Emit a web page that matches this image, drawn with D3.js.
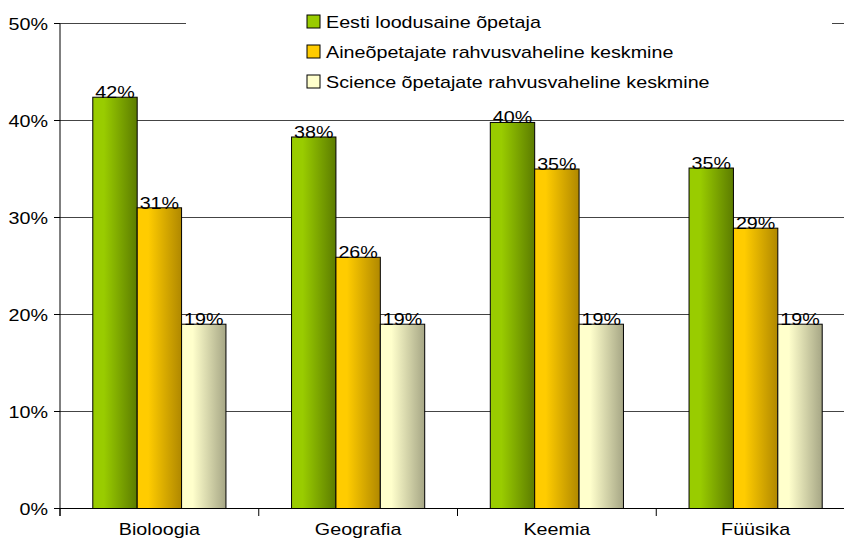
<!DOCTYPE html>
<html>
<head>
<meta charset="utf-8">
<script src="https://cdn.jsdelivr.net/npm/d3@7"></script>
<style>
  body { margin: 0; background: #fff; }
  text { font-family: "Liberation Sans", Arial, sans-serif; fill: #000; }
</style>
</head>
<body>
<svg id="chart" width="844" height="541"></svg>
<script>
// categories and series (values in %)
const categories = ["Bioloogia", "Geografia", "Keemia", "Füüsika"];
const seriesNames = [
  "Eesti loodusaine õpetaja",
  "Aineõpetajate rahvusvaheline keskmine",
  "Science õpetajate rahvusvaheline keskmine"
];
const eesti = [42.4, 38.3, 39.8, 35.1];
const aine = [31.0, 25.9, 35.0, 28.9];
const science = [19.0, 19.0, 19.0, 19.0];
const labels = [
  ["42%", "38%", "40%", "35%"],
  ["31%", "26%", "35%", "29%"],
  ["19%", "19%", "19%", "19%"]
];
const yTicks = [0, 10, 20, 30, 40, 50];

const series = [eesti, aine, science];

// colours for each series: light edge -> dark edge
const colors = [
  {light: "#99cc00", dark: "#5c7c00"},
  {light: "#ffcc00", dark: "#b08800"},
  {light: "#ffffcc", dark: "#a6a685"}
];

const svg = d3.select("#chart");
const stretch = 1.16; // text in the original is a bit wider than plain Arial

//gradients for bars
const defs = svg.append("defs");
colors.forEach((c, i) => {
  const g = defs.append("linearGradient")
    .attr("id", "grad" + i)
    .attr("x1", "0%").attr("x2", "100%")
    .attr("y1", "0%").attr("y2", "0%");
  g.append("stop").attr("offset", "0%").attr("stop-color", c.light);
  g.append("stop").attr("offset", "25%").attr("stop-color", c.light);
  g.append("stop").attr("offset", "100%").attr("stop-color", c.dark);
});

// scales
const x = d3.scaleBand()
  .domain(categories)
  .range([60, 855])
  .paddingInner(0.33)
  .paddingOuter(0.165);

const xSub = d3.scaleBand()
  .domain(d3.range(series.length))
  .range([0, x.bandwidth()]);

const y = d3.scaleLinear()
  .domain([0, 50])
  .range([508.5, 23.5]);

const step = x.step();

// gridlines
svg.append("g")
  .selectAll("line")
  .data(yTicks.filter(d => d > 0))
  .enter()
  .append("line")
  .attr("x1", 60).attr("x2", 844)
  .attr("y1", d => y(d)).attr("y2", d => y(d))
  .attr("stroke", "#444")
  .attr("stroke-width", 1);

// legend background hides part of the top gridline
svg.append("rect")
  .attr("x", 186).attr("y", 0)
  .attr("width", 646).attr("height", 100)
  .attr("fill", "#fff");

// bars
const groups = svg.append("g")
  .selectAll("g")
  .data(series)
  .enter()
  .append("g")
  .attr("fill", (d, i) => `url(#grad${i})`);

groups.selectAll("rect")
  .data((d, i) => d.map((v, j) => ({v: v, s: i, c: categories[j]})))
  .enter()
  .append("rect")
  .attr("x", d => x(d.c) + xSub(d.s))
  .attr("width", xSub.bandwidth())
  .attr("y", d => y(d.v))
  .attr("height", d => y(0) - y(d.v))
  .attr("stroke", "#000")
  .attr("stroke-width", 1);

// value labels
series.forEach((s, i) => {
  svg.append("g")
    .selectAll("text")
    .data(s)
    .enter()
    .append("text")
    .attr("transform", (d, j) =>
      `translate(${x(categories[j]) + xSub(i) + xSub.bandwidth() / 2}, ${y(d) + 1}) scale(${stretch},1)`)
    .attr("text-anchor", "middle")
    .style("font-size", "17px")
    .text((d, j) => labels[i][j]);
});

// y axis
svg.append("line")
  .attr("x1", 60).attr("x2", 60)
  .attr("y1", y(50)).attr("y2", 516)
  .attr("stroke", "#000");

svg.append("g")
  .selectAll("line")
  .data(yTicks)
  .enter()
  .append("line")
  .attr("x1", 54).attr("x2", 60)
  .attr("y1", d => y(d)).attr("y2", d => y(d))
  .attr("stroke", "#000");

svg.append("g")
  .selectAll("text")
  .data(yTicks)
  .enter()
  .append("text")
  .attr("transform", d => `translate(48, ${y(d) + 6}) scale(${stretch},1)`)
  .attr("text-anchor", "end")
  .style("font-size", "17px")
  .text(d => d + "%");

// x axis
svg.append("line")
  .attr("x1", 60).attr("x2", 855)
  .attr("y1", y(0)).attr("y2", y(0))
  .attr("stroke", "#000");

svg.append("g")
  .selectAll("line")
  .data(d3.range(categories.length + 1))
  .enter()
  .append("line")
  .attr("x1", d => 60 + d * step).attr("x2", d => 60 + d * step)
  .attr("y1", y(0)).attr("y2", 516)
  .attr("stroke", "#000");

svg.append("g")
  .selectAll("text")
  .data(categories)
  .enter()
  .append("text")
  .attr("transform", d => `translate(${x(d) + x.bandwidth() / 2}, 535) scale(${stretch},1)`)
  .attr("text-anchor", "middle")
  .style("font-size", "17px")
  .text(d => d);

// legend
const legend = svg.append("g")
  .selectAll("g")
  .data(seriesNames)
  .enter()
  .append("g")
  .attr("transform", (d, i) => `translate(307, ${15 + i * 30})`);

legend.append("rect")
  .attr("width", 13).attr("height", 13)
  .attr("fill", (d, i) => colors[i].light)
  .attr("stroke", "#000");

legend.append("text")
  .attr("transform", `translate(19, 13) scale(${stretch},1)`)
  .style("font-size", "17px")
  .text(d => d);
</script>
</body>
</html>
